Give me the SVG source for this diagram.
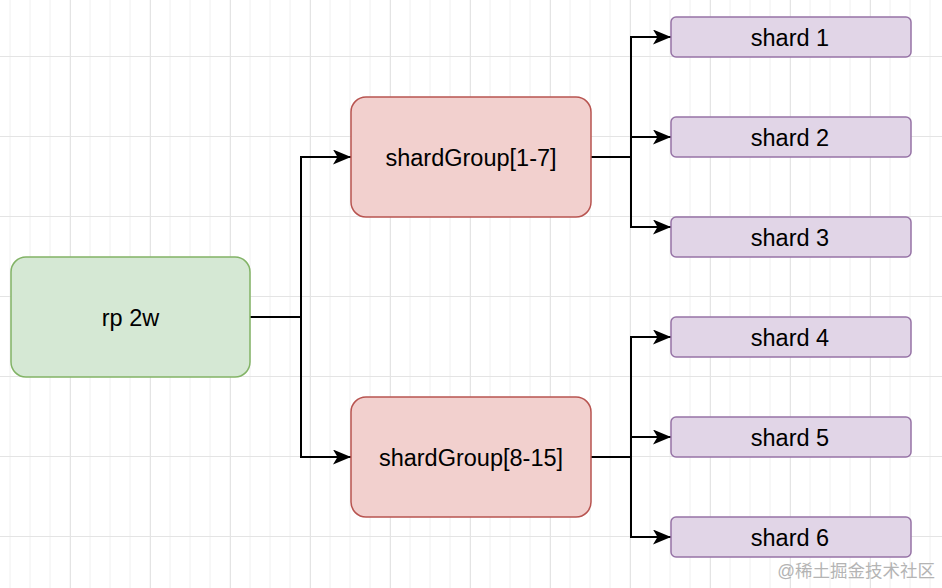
<svg xmlns="http://www.w3.org/2000/svg" width="942" height="588" viewBox="0 0 942 588">
  <style>
    .lbl { font-family: "Liberation Sans", Arial, Helvetica, sans-serif; font-size: 23.5px; fill: #000; text-anchor: middle; }
    .green { fill: #d5e8d4; stroke: #82b366; stroke-width: 1.5; }
    .red { fill: #f2d0ce; stroke: #b85450; stroke-width: 1.5; }
    .purple { fill: #e1d5e7; stroke: #9673a6; stroke-width: 1.5; }
    .edge { fill: none; stroke: #000; stroke-width: 2; marker-end: url(#arrow); }
    .wm { font-family: "Liberation Sans", "Noto Sans CJK SC", sans-serif; font-size: 17.5px; fill: #b4b4b4; }
  </style>
  <defs>
    <pattern id="minor" patternUnits="userSpaceOnUse" x="0" y="0" width="20" height="80">
      <line x1="10" y1="0" x2="10" y2="80" stroke="#f0f0f0" stroke-width="1"/>
      <line x1="0" y1="56.5" x2="20" y2="56.5" stroke="#e4e4e4" stroke-width="1"/>
    </pattern>
    <pattern id="major" patternUnits="userSpaceOnUse" x="0" y="0" width="80" height="80">
      <line x1="70.5" y1="0" x2="70.5" y2="80" stroke="#e4e4e4" stroke-width="1"/>
    </pattern>
    <marker id="arrow" markerUnits="userSpaceOnUse" markerWidth="18" markerHeight="15" refX="18" refY="7.5" orient="auto" viewBox="0 0 18 15">
      <path d="M0,0 L18,7.5 L0,15 L4.5,7.5 Z" fill="#000"/>
    </marker>
  </defs>
  <rect width="942" height="588" fill="#ffffff"/>
  <rect width="942" height="588" fill="url(#minor)"/>
  <rect width="942" height="588" fill="url(#major)"/>

  <g id="connectors">
    <path class="edge" d="M250,317 H301 V157 H351"/>
    <path class="edge" d="M250,317 H301 V457 H351"/>
    <path class="edge" d="M591,157 H631 V37 H671"/>
    <path class="edge" d="M591,157 H631 V137 H671"/>
    <path class="edge" d="M591,157 H631 V227 H671"/>
    <path class="edge" d="M591,457 H631 V337 H671"/>
    <path class="edge" d="M591,457 H631 V437 H671"/>
    <path class="edge" d="M591,457 H631 V537 H671"/>
  </g>

  <g id="rp2w">
    <rect class="green" x="11" y="257" width="239" height="120" rx="15" ry="15"/>
    <text class="lbl" x="130.5" y="325.5">rp 2w</text>
  </g>
  <g id="shardGroup1">
    <rect class="red" x="351" y="97" width="240" height="120" rx="15" ry="15"/>
    <text class="lbl" x="471" y="165.5">shardGroup[1-7]</text>
  </g>
  <g id="shardGroup2">
    <rect class="red" x="351" y="397" width="240" height="120" rx="15" ry="15"/>
    <text class="lbl" x="471" y="465.5">shardGroup[8-15]</text>
  </g>
  <g id="shard1">
    <rect class="purple" x="671" y="17" width="240" height="40" rx="5" ry="5"/>
    <text class="lbl" x="790" y="45.5">shard 1</text>
  </g>
  <g id="shard2">
    <rect class="purple" x="671" y="117" width="240" height="40" rx="5" ry="5"/>
    <text class="lbl" x="790" y="145.5">shard 2</text>
  </g>
  <g id="shard3">
    <rect class="purple" x="671" y="217" width="240" height="40" rx="5" ry="5"/>
    <text class="lbl" x="790" y="245.5">shard 3</text>
  </g>
  <g id="shard4">
    <rect class="purple" x="671" y="317" width="240" height="40" rx="5" ry="5"/>
    <text class="lbl" x="790" y="345.5">shard 4</text>
  </g>
  <g id="shard5">
    <rect class="purple" x="671" y="417" width="240" height="40" rx="5" ry="5"/>
    <text class="lbl" x="790" y="445.5">shard 5</text>
  </g>
  <g id="shard6">
    <rect class="purple" x="671" y="517" width="240" height="40" rx="5" ry="5"/>
    <text class="lbl" x="790" y="545.5">shard 6</text>
  </g>

  <text class="wm" x="935" y="577" text-anchor="end">@稀土掘金技术社区</text>
</svg>
